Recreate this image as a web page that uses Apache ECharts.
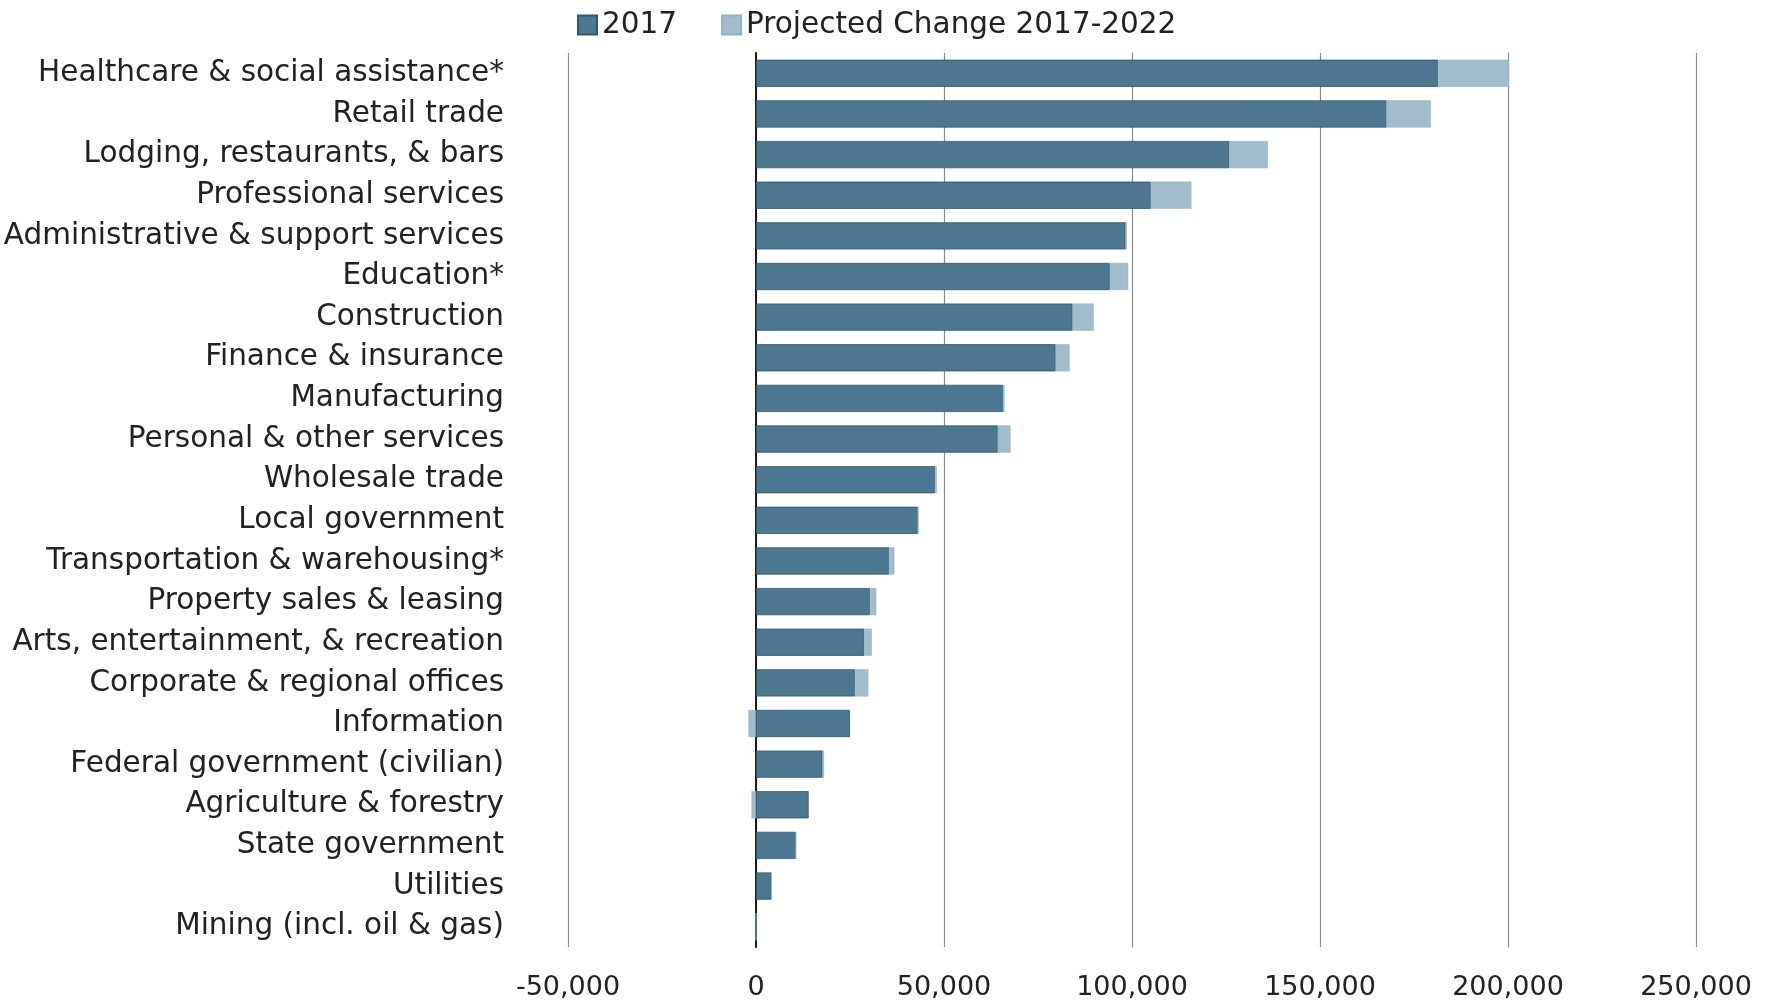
<!DOCTYPE html>
<html>
<head>
<meta charset="utf-8">
<script src="https://cdn.jsdelivr.net/npm/echarts@6/dist/echarts.min.js"></script>
<style>
html,body{margin:0;padding:0;background:#fff;}
#chart{width:1771px;height:1003px;}
</style>
</head>
<body>
<div id="chart"></div>
<script>
const categories = [
  "Healthcare & social assistance*",
  "Retail trade",
  "Lodging, restaurants, & bars",
  "Professional services",
  "Administrative & support services",
  "Education*",
  "Construction",
  "Finance & insurance",
  "Manufacturing",
  "Personal & other services",
  "Wholesale trade",
  "Local government",
  "Transportation & warehousing*",
  "Property sales & leasing",
  "Arts, entertainment, & recreation",
  "Corporate & regional offices",
  "Information",
  "Federal government (civilian)",
  "Agriculture & forestry",
  "State government",
  "Utilities",
  "Mining (incl. oil & gas)"
];
const values2017 = [181400, 167700, 125900, 105000, 98300, 94100, 84200, 79700, 65700, 64300, 47600, 43100, 35400, 30300, 28800, 26300, 25000, 17700, 14000, 10600, 4100, 0];
const projectedChange = [18900, 11800, 10200, 10800, 300, 4900, 5600, 3700, 400, 3400, 500, 0, 1400, 1700, 2000, 3600, -2000, 400, -1200, 0, 0, 0];
const seriesNames = ["2017", "Projected Change 2017-2022"];
const xTicks = { min: -50000, max: 250000, interval: 50000 };

const FONT = "DejaVu Sans";
const chart = echarts.init(document.getElementById('chart'), null, { renderer: 'canvas' });
chart.setOption({
  backgroundColor: '#ffffff',
  animation: false,
  legend: {
    left: 572,
    top: 5,
    itemWidth: 19,
    itemHeight: 19,
    itemGap: 44,
    icon: 'rect',
    textStyle: { fontFamily: FONT, fontSize: 29.5, color: '#222' },
    data: seriesNames
  },
  grid: { left: 568, right: 75, top: 53, bottom: 56, containLabel: false },
  xAxis: {
    type: 'value',
    min: xTicks.min,
    max: xTicks.max,
    interval: xTicks.interval,
    axisLine: { show: false },
    axisTick: { show: false },
    splitLine: { show: true, lineStyle: { color: '#8a8a8a', width: 1.2 } },
    axisLabel: {
      fontFamily: FONT, fontSize: 27, color: '#222', margin: 27,
      formatter: v => v.toLocaleString('en-US')
    }
  },
  yAxis: {
    type: 'category',
    inverse: true,
    data: categories,
    axisLine: { show: true, onZero: true, lineStyle: { color: '#1a1a1a', width: 2 } },
    axisTick: { show: false },
    splitLine: { show: false },
    axisLabel: { fontFamily: FONT, fontSize: 29.5, color: '#222', margin: 64 }
  },
  series: [
    {
      name: seriesNames[0], type: 'bar', stack: 'total', data: values2017,
      barCategoryGap: '33%',
      itemStyle: { color: '#4d7791', borderColor: '#30596f', borderWidth: 0.8 }
    },
    {
      name: seriesNames[1], type: 'bar', stack: 'total', data: projectedChange,
      barCategoryGap: '33%',
      itemStyle: { color: '#a2bccb', borderColor: '#92b2c5', borderWidth: 0.5 }
    }
  ]
});
</script>
</body>
</html>
